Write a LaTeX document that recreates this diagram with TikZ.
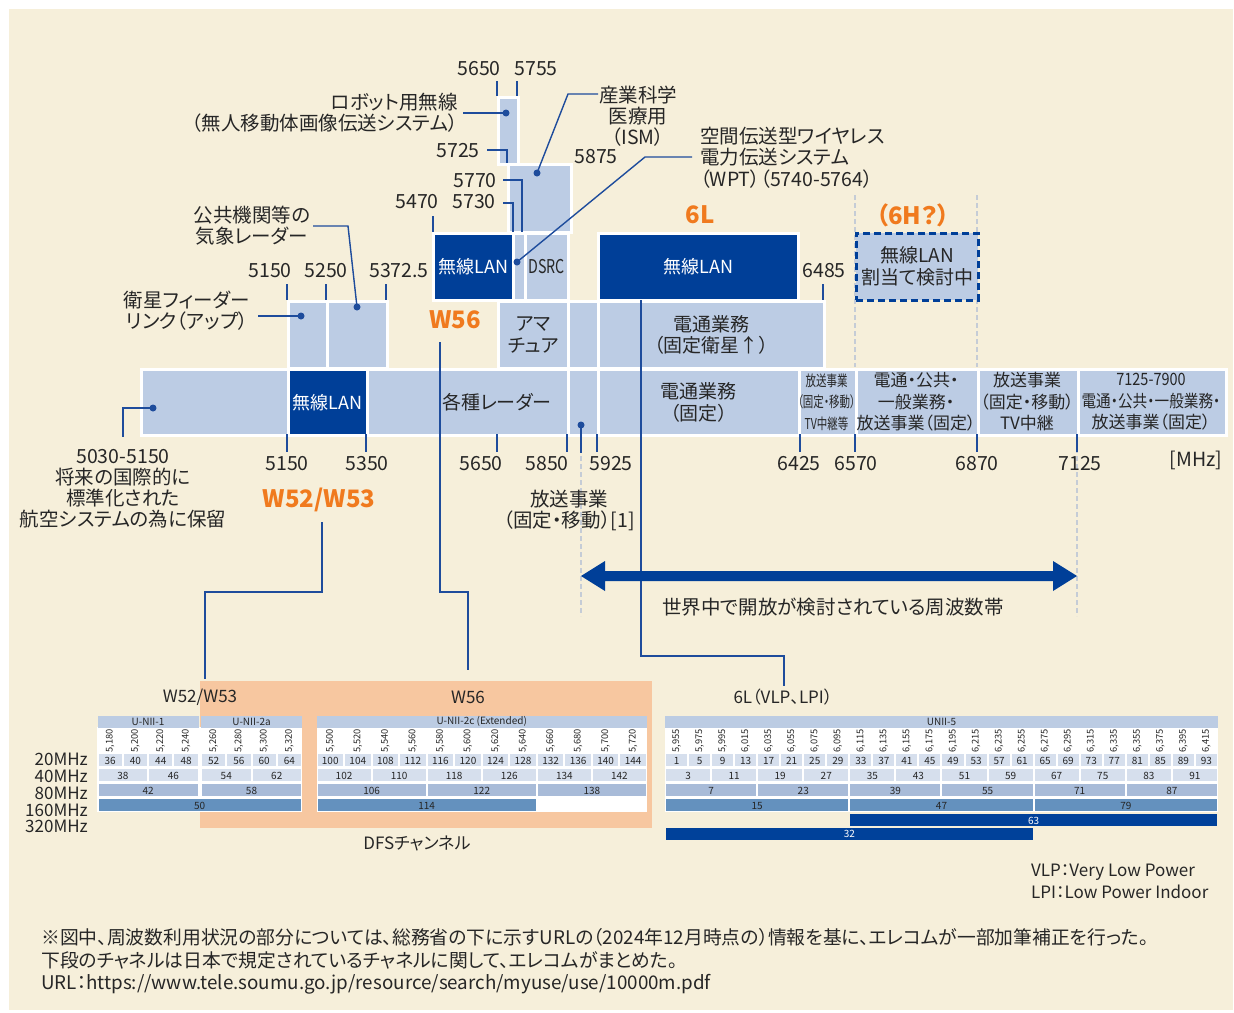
\documentclass[tikz,border=0pt]{standalone}
\usepackage{fontspec}
\setmainfont{Noto Sans CJK JP}[RawFeature=+palt]
\usepackage{graphicx}
\definecolor{cream}{HTML}{F6EFDA}
\definecolor{lbox}{HTML}{BCCCE4}
\definecolor{dbox}{HTML}{003F98}
\definecolor{lcol}{HTML}{1E4C9C}
\definecolor{orng}{HTML}{F07A1E}
\definecolor{peach}{HTML}{F7C7A0}
\definecolor{gline}{HTML}{C5CCD6}
\definecolor{hdr}{HTML}{BCCCE3}
\definecolor{c20}{HTML}{D6DFED}
\definecolor{c80}{HTML}{A8BBD8}
\definecolor{c160}{HTML}{6491BE}
\definecolor{c320}{HTML}{00419A}
\definecolor{ink}{HTML}{262626}
\newcommand\mkbox[7]{\node[#6,anchor=north west,minimum width={#4-#2},minimum height={#5-#3}] (#1) at (#2,#3) {#7};}
\newcommand\cnd[2]{\scalebox{#1}[1]{#2}}
\tikzset{
 lab/.style={font=\fontsize{19.5}{21}\selectfont, inner sep=0, align=center, text=ink},
 mlab/.style={font=\fontsize{17}{21.5}\selectfont, inner sep=0, align=center, text=ink},
 olab/.style={font=\fontsize{24}{28}\selectfont\bfseries, text=orng, inner sep=0},
 lbx/.style={fill=lbox, draw=white, line width=2.5, inner sep=0, align=center, font=\fontsize{19}{21.5}\selectfont, text=ink},
 dbx/.style={lbx, fill=dbox, text=white, font=\fontsize{18}{21}\selectfont},
 hbx/.style={fill=lbox, draw=dbox, line width=2.5, dash pattern=on 7pt off 4pt, inner sep=0, align=center, font=\fontsize{19}{22}\selectfont, text=ink},
 ldr/.style={draw=lcol, line width=1.4},
 dotn/.style={circle, fill=lcol, inner sep=0, minimum size=7},
 gdash/.style={draw=gline, line width=1.3, dash pattern=on 5pt off 3pt},
 tnum/.style={font=\fontsize{10}{11}\selectfont, inner sep=0, text=ink},
 tfrq/.style={font=\fontsize{9.3}{10}\selectfont, inner sep=0, text=ink},
 thdr/.style={font=\fontsize{10}{11}\selectfont, inner sep=0, text=ink},
 rlab/.style={font=\fontsize{17}{19}\selectfont, inner sep=0, text=ink, anchor=east},
 slab/.style={font=\fontsize{17}{19}\selectfont, inner sep=0, text=ink},
}
\newcommand\chgroup[5]{%
  \pgfmathtruncatemacro\nA{#3-1}
  \foreach \i in {0,...,\nA}{
    \pgfmathsetmacro\xa{#1+\i*#2+1}
    \pgfmathsetmacro\xb{#1+(\i+1)*#2-1}
    \pgfmathsetmacro\xm{#1+(\i+0.5)*#2}
    \pgfmathtruncatemacro\ch{#4+4*\i}
    \pgfmathtruncatemacro\fq{#5+20*\i}
    \pgfmathtruncatemacro\fth{\fq/1000}
    \pgfmathtruncatemacro\frest{\fq-1000*\fth}
    \fill[c20] (\xa,754) rectangle (\xb,766);
    \node[tnum] at (\xm,760.5) {\ch};
    \node[tfrq,rotate=90,anchor=west] at (\xm,752.5) {\fth,\ifnum\frest<100 0\fi\frest};
  }
  \pgfmathtruncatemacro\nB{#3/2-1}
  \foreach \i in {0,...,\nB}{
    \pgfmathsetmacro\xa{#1+2*\i*#2+1}
    \pgfmathsetmacro\xb{#1+(2*\i+2)*#2-1}
    \pgfmathsetmacro\xm{#1+(2*\i+1)*#2}
    \pgfmathtruncatemacro\ch{#4+8*\i+2}
    \fill[c20] (\xa,769) rectangle (\xb,781);
    \node[tnum] at (\xm,775.5) {\ch};
  }
  \pgfmathtruncatemacro\nC{#3/4-1}
  \foreach \i in {0,...,\nC}{
    \pgfmathsetmacro\xa{#1+4*\i*#2+1}
    \pgfmathsetmacro\xb{#1+(4*\i+4)*#2-1}
    \pgfmathsetmacro\xm{#1+(4*\i+2)*#2}
    \pgfmathtruncatemacro\ch{#4+16*\i+6}
    \fill[c80] (\xa,784) rectangle (\xb,796);
    \node[tnum] at (\xm,790.5) {\ch};
  }
}
\begin{document}
\begin{tikzpicture}[x=1pt,y=-1pt]
\useasboundingbox (0,0) rectangle (1234,1012);
\fill[white] (0,0) rectangle (1234,1012);
\fill[cream] (9,9) rectangle (1233,1010);

% grey dashed guide lines
\draw[gdash] (855,195) -- (855,367);
\draw[gdash] (977,195) -- (977,367);
\draw[gdash] (581,440) -- (581,616);
\draw[gdash] (1077,440) -- (1077,616);

% ---- top boxes
\mkbox{robot}{497}{96}{517}{163}{lbx}{}
\mkbox{ism}{507}{163}{570}{231}{lbx}{}
% row 3
\mkbox{wlanA}{432}{232}{512}{299}{dbx}{無線LAN}
\mkbox{wpt}{512}{232}{524}{299}{lbx}{}
\mkbox{dsrc}{524}{232}{567}{299}{lbx}{\cnd{0.75}{DSRC}}
\mkbox{wlanB}{597}{232}{797}{299}{dbx}{無線LAN}
\mkbox{sixh}{855}{232}{977}{299}{hbx}{無線LAN\\割当て検討中}
% row 2
\mkbox{feed}{287}{300}{326}{367}{lbx}{}
\mkbox{wxr}{326}{300}{386}{367}{lbx}{}
\mkbox{ama}{497}{300}{567}{367}{lbx}{アマ\\チュア}
\mkbox{rtwo}{567}{300}{597}{367}{lbx}{}
\mkbox{sat}{597}{300}{823}{367}{lbx}{電通業務\\（固定衛星↑）}
% main band
\mkbox{mA}{140}{368}{287}{434}{lbx}{}
\mkbox{mB}{287}{368}{366}{434}{dbx}{無線LAN}
\mkbox{mC}{366}{368}{567}{434}{lbx}{}
\mkbox{mD}{567}{368}{597}{434}{lbx}{}
\mkbox{mE}{597}{368}{798}{434}{lbx}{電通業務\\（固定）}
\mkbox{mF}{798}{368}{855}{434}{lbx}{}
\mkbox{mG}{855}{368}{977}{434}{lbx}{}
\mkbox{mH}{977}{368}{1077}{434}{lbx}{}
\mkbox{mI}{1077}{368}{1225}{434}{lbx}{}
\node[font=\fontsize{19}{21}\selectfont, inner sep=0, text=ink] (tradar) at (497,402) {各種レーダー};
\node[font=\fontsize{15}{21.5}\selectfont, inner sep=0, align=center, text=ink] (tF) at (826.5,402) {\cnd{0.7}{放送事業}\\\cnd{0.7}{（固定・移動）}\\\cnd{0.7}{TV中継等}};
\node[mlab] (tG) at (916,402) {電通・公共・\\一般業務・\\放送事業（固定）};
\node[mlab] (tH) at (1027,402) {放送事業\\（固定・移動）\\TV中継};
\node[mlab] (tI) at (1151,402) {\cnd{0.85}{7125-7900}\\\cnd{0.86}{電通・公共・一般業務・}\\放送事業（固定）};

% dots
\node[dotn] (drobot) at (506,113) {};
\node[dotn] (dism) at (537,173) {};
\node[dotn] (dwpt) at (517,262) {};
\node[dotn] (dfeed) at (301,316) {};
\node[dotn] (dwxr) at (357,307) {};
\node[dotn] (dres) at (153,408) {};
\node[dotn] (dbro) at (581,425) {};

% ---- labels top
\node[lab] (f5650) at (479,69) {5650};
\node[lab] (f5755) at (536,69) {5755};
\node[lab,anchor=east] (lrobot1) at (458,102) {ロボット用無線};
\node[lab,anchor=east] (lrobot2) at (458,123) {（無人移動体画像伝送システム）};
\node[lab] (lism) at (638,116) {産業科学\\医療用\\（ISM）};
\node[lab,anchor=west] (lwpt1) at (700,136) {空間伝送型ワイヤレス};
\node[lab,anchor=west] (lwpt2) at (700,157) {電力伝送システム};
\node[lab,anchor=west] (lwpt3) at (700,179) {（WPT）（5740-5764）};
\node[lab] (f5725) at (458,151) {5725};
\node[lab] (f5875) at (596,157) {5875};
\node[lab] (f5770) at (475,181) {5770};
\node[lab] (f5470) at (417,202) {5470};
\node[lab] (f5730) at (474,202) {5730};
\node[lab] (lwxr) at (252,226) {公共機関等の\\気象レーダー};
\node[olab] (o6l) at (700,215) {6L};
\node[olab] (o6h) at (913,215) {（6H？）};
\node[lab] (f5150a) at (270,271) {5150};
\node[lab] (f5250) at (326,271) {5250};
\node[lab] (f53725) at (399,271) {5372.5};
\node[lab] (f6485) at (824,271) {6485};
\node[lab] (lfeed) at (187,310.5) {衛星フィーダー\\リンク（アップ）};
\node[olab] (ow56) at (455,320) {W56};

% ---- labels below band
\foreach \xx/\tt in {287/5150,367/5350,481/5650,547/5850,611/5925,799/6425,856/6570,977/6870,1080/7125}{
  \node[lab] at (\xx,464) {\tt};
}
\node[lab] (lmhz) at (1196,460) {[MHz]};
\node[lab] (lres) at (123,488.5) {5030-5150\\将来の国際的に\\標準化された\\航空システムの為に保留};
\node[olab] (ow52) at (319,500) {W52/W53};
\node[lab] (lbro) at (569,510) {放送事業\\（固定・移動）[1]};

% ticks
\foreach \xx in {497,517}{\draw[ldr] (\xx,81) -- (\xx,96);}
\foreach \xx in {287,326,386}{\draw[ldr] (\xx,284) -- (\xx,300);}
\draw[ldr] (823,284) -- (823,300);
\draw[ldr] (433,216) -- (433,232);
\foreach \xx in {287,366,497,567,597,800,855,977,1077}{\draw[ldr] (\xx,434) -- (\xx,452);}

% leaders
\coordinate (crobot) at (463,113);
\draw[ldr] (crobot) -- (drobot.center);
\coordinate (cism) at (598,94);
\draw[ldr] (dism.center) -- (568,94) -- (cism);
\coordinate (cwpt) at (692,157);
\draw[ldr] (dwpt.center) -- (645,157) -- (cwpt);
\coordinate (c5725) at (487,150);
\draw[ldr] (c5725) -- (507,150) -- (507,163);
\coordinate (c5770) at (503,180);
\draw[ldr] (c5770) -- (522,180) -- (522,232);
\coordinate (c5730) at (503,203);
\draw[ldr] (c5730) -- (513,203) -- (513,232);
\coordinate (cfeed) at (258,316);
\draw[ldr] (cfeed) -- (dfeed.center);
\coordinate (cwxr) at (313,226);
\draw[ldr] (cwxr) -- (348,226) -- (dwxr.center);
\coordinate (cres) at (123,437);
\draw[ldr] (dres.center) -- (123,408) -- (cres);
\coordinate (cbro) at (581,453);
\draw[ldr] (dbro.center) -- (cbro);

% ---- DFS area and channel tables
\fill[peach] (200,681) rectangle (652,828);
\node[slab] (tw52) at (200,697) {W52/W53};
\node[slab] (tw56) at (468,697) {W56};
\node[slab] (t6l) at (783,697) {6L（VLP、LPI）};
\node[slab] (tdfs) at (417,843) {DFSチャンネル};

\coordinate (ew52) at (205,679);
\coordinate (ew56) at (468,670);
\coordinate (e6l) at (784,686);
\draw[ldr] (ow52) ++(3,22) -- (322,592) -- (205,592) -- (ew52);
\draw[ldr] (ow56) ++(-15,22) -- (440,592) -- (468,592) -- (ew56);
\draw[ldr] (sat.north -| 641,0) -- (641,656) -- (784,656) -- (e6l);

\fill[white] (97,727) rectangle (302,812);
\fill[white] (316.5,727) rectangle (647,812);
\fill[white] (665,727) rectangle (1218,812);
\fill[hdr] (97.5,716) rectangle (198.7,727.5);
\fill[hdr] (201,716) rectangle (302,727.5);
\fill[hdr] (316.5,716) rectangle (647,727.5);
\fill[hdr] (665,716) rectangle (1218,727.5);
\node[thdr] at (148,721.8) {U-NII-1};
\node[thdr] at (251.5,721.8) {U-NII-2a};
\node[thdr] at (481.7,721.8) {U-NII-2c (Extended)};
\node[thdr] at (941.5,721.8) {UNII-5};
\chgroup{97.5}{25.3}{4}{36}{5180}
\chgroup{201}{25.25}{4}{52}{5260}
\chgroup{316.5}{27.54}{12}{100}{5500}
\chgroup{665}{23.04}{24}{1}{5955}
% 160 MHz
\fill[c160] (98.5,799) rectangle (301,811);
\node[tnum] at (199.7,805.5) {50};
\fill[c160] (317.5,799) rectangle (535.8,811);
\node[tnum] at (426.6,805.5) {114};
\fill[c160] (666,799) rectangle (848.3,811);
\node[tnum] at (757.2,805.5) {15};
\fill[c160] (850.3,799) rectangle (1032.6,811);
\node[tnum] at (941.5,805.5) {47};
\fill[c160] (1034.6,799) rectangle (1217,811);
\node[tnum] at (1125.8,805.5) {79};
% 320 MHz
\fill[c320] (850.3,814) rectangle (1217,826);
\node[tnum,text=white] at (1033.6,820.5) {63};
\fill[c320] (666,828) rectangle (1032.6,840);
\node[tnum,text=white] at (849.3,834) {32};
% row labels
\node[rlab] at (88,759) {20MHz};
\node[rlab] at (88,776) {40MHz};
\node[rlab] at (88,793) {80MHz};
\node[rlab] at (88,810) {160MHz};
\node[rlab] at (88,826) {320MHz};

% ---- wide arrow
\coordinate (aL) at (581,576);
\coordinate (aR) at (1077,576);
\fill[dbox] (aL) -- ++(24,-15) -- ++(0,10) -- ++(448,0) -- ++(0,-10) -- (aR) -- ++(-24,15) -- ++(0,-10) -- ++(-448,0) -- ++(0,10) -- cycle;
\node[lab] (larrow) at (833,607) {世界中で開放が検討されている周波数帯};

% ---- notes
\node[font=\fontsize{17}{19}\selectfont, inner sep=0, text=ink, anchor=west] at (1031,872) {VLP：Very Low Power};
\node[font=\fontsize{17}{19}\selectfont, inner sep=0, text=ink, anchor=west] at (1031,892) {LPI：Low Power Indoor};
\node[font=\fontsize{18.8}{20}\selectfont, inner sep=0, text=ink, anchor=west] at (41,937) {※図中、周波数利用状況の部分については、総務省の下に示すURLの（2024年12月時点の）情報を基に、エレコムが一部加筆補正を行った。};
\node[font=\fontsize{18.8}{20}\selectfont, inner sep=0, text=ink, anchor=west] at (41,960) {下段のチャネルは日本で規定されているチャネルに関して、エレコムがまとめた。};
\node[font=\fontsize{18.8}{20}\selectfont, inner sep=0, text=ink, anchor=west] at (41,984) {URL：https://www.tele.soumu.go.jp/resource/search/myuse/use/10000m.pdf};
\end{tikzpicture}
\end{document}
